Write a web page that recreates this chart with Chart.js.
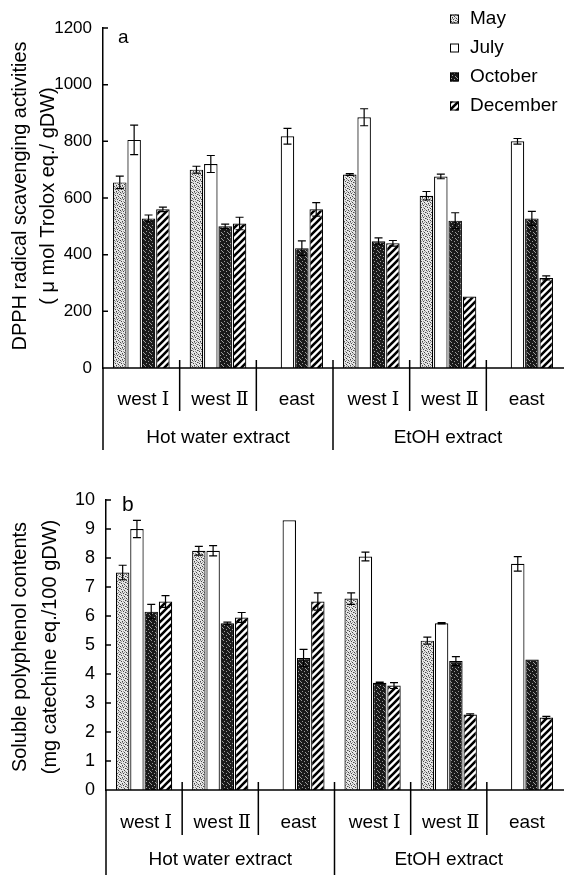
<!DOCTYPE html>
<html>
<head>
<meta charset="utf-8">
<script src="https://cdn.jsdelivr.net/npm/chart.js@4.4.0/dist/chart.umd.min.js"></script>
<style>
  html, body { margin: 0; padding: 0; background: #fff; }
  #wrap { position: relative; width: 564px; height: 875px; }
  canvas { position: absolute; left: 0; }
  #chartA { top: 0; }
  #chartB { top: 460px; }
</style>
</head>
<body>
<div id="wrap">
  <canvas id="chartA" width="564" height="460"></canvas>
  <canvas id="chartB" width="564" height="415"></canvas>
</div>
<script>
// ---------- data ----------
const sites = ['west Ⅰ', 'west Ⅱ', 'east', 'west Ⅰ', 'west Ⅱ', 'east'];
const extracts = ['Hot water extract', 'EtOH extract'];
const months = ['May', 'July', 'October', 'December'];

// DPPH radical scavenging activity (umol Trolox eq./gDW)
const dpphMay = [655, 700, null, 683, 608, null];
const dpphJuly = [805, 720, 818, 885, 676, 800];
const dpphOctober = [528, 500, 423, 447, 520, 528];
const dpphDecember = [560, 510, 560, 440, 252, 318];
const dpphMayErr = [22, 12, null, 3, 15, null];
const dpphJulyErr = [52, 30, 28, 30, 8, 10];
const dpphOctoberErr = [12, 8, 26, 12, 28, 25];
const dpphDecemberErr = [8, 22, 24, 10, 0, 7];
const dpphTicks = { min: 0, max: 1200, step: 200 };

// Soluble polyphenol (mg catechine eq./100 gDW)
const polyMay = [7.5, 8.25, null, 6.6, 5.15, null];
const polyJuly = [9.0, 8.25, 9.3, 8.05, 5.75, 7.8];
const polyOctober = [6.15, 5.75, 4.55, 3.7, 4.45, 4.5];
const polyDecember = [6.5, 5.95, 6.5, 3.6, 2.6, 2.5];
const polyMayErr = [0.25, 0.15, null, 0.2, 0.12, null];
const polyJulyErr = [0.3, 0.18, 0, 0.15, 0.02, 0.25];
const polyOctoberErr = [0.25, 0.04, 0.3, 0.02, 0.15, 0];
const polyDecemberErr = [0.2, 0.17, 0.3, 0.1, 0.03, 0.04];
const polyTicks = { min: 0, max: 10, step: 1 };

const FONT = "'Liberation Sans', 'DejaVu Sans', sans-serif";
const NUMERAL_FONT = "'DejaVu Serif', 'Liberation Serif', serif";

// ---------- fill patterns ----------
function makePattern(kind) {
    const c = document.createElement('canvas');
    const n = kind === 'hatch' ? 7 : 6;
    c.width = n;
    c.height = n;
    const g = c.getContext('2d');
    const dot = (pts) => pts.forEach(([px, py]) => g.fillRect(px, py, 1, 1));
    if (kind === 'light') {
        g.fillStyle = '#e6e6e6';
        g.fillRect(0, 0, n, n);
        g.fillStyle = '#444';
        dot([[0, 0], [3, 1], [5, 2], [1, 3], [4, 4], [2, 5]]);
        g.fillStyle = '#999';
        dot([[2, 0], [0, 2], [3, 3], [5, 5], [1, 1], [4, 0]]);
    } else if (kind === 'dark') {
        g.fillStyle = '#1a1a1a';
        g.fillRect(0, 0, n, n);
        g.fillStyle = '#9a9a9a';
        dot([[1, 0], [4, 1], [2, 3], [5, 4], [0, 5]]);
    } else if (kind === 'hatch') {
        g.fillStyle = '#fff';
        g.fillRect(0, 0, n, n);
        g.strokeStyle = '#000';
        g.lineWidth = 2.6;
        g.beginPath();
        g.moveTo(-1, n + 1); g.lineTo(n + 1, -1);
        g.moveTo(-1, 1); g.lineTo(1, -1);
        g.moveTo(n - 1, n + 1); g.lineTo(n + 1, n - 1);
        g.stroke();
    } else {
        g.fillStyle = '#fff';
        g.fillRect(0, 0, n, n);
    }
    return g.createPattern(c, 'repeat');
}

const fills = [makePattern('light'), makePattern('white'), makePattern('dark'), makePattern('hatch')];

// site label: latin part + roman numeral in a serif face
function drawSite(ctx, text, cx, cy, size) {
    const m = text.match(/^(.*?)([ⅠⅡ]?)$/);
    const word = m[1];
    const num = m[2];
    ctx.font = `${size}px ${FONT}`;
    const w1 = ctx.measureText(word).width;
    ctx.font = `${size}px ${NUMERAL_FONT}`;
    const w2 = num ? ctx.measureText(num).width : 0;
    let x0 = cx - (w1 + w2) / 2;
    ctx.textAlign = 'left';
    ctx.font = `${size}px ${FONT}`;
    ctx.fillText(word, x0, cy);
    if (num) {
        ctx.font = `${size}px ${NUMERAL_FONT}`;
        ctx.fillText(num, x0 + w1, cy);
    }
}

// ---------- drawing extras: error bars, axis bits, labels, legend ----------
const panelPlugin = {
    id: 'panel',
    afterDatasetsDraw(chart, args, opts) {
        const { ctx, chartArea: area, scales: { x, y } } = chart;
        const y0 = y.getPixelForValue(0);
        ctx.save();
        ctx.strokeStyle = '#000';
        ctx.fillStyle = '#000';

        // error bars
        ctx.lineWidth = 1.2;
        chart.data.datasets.forEach((ds, i) => {
            const meta = chart.getDatasetMeta(i);
            const errs = opts.errors[i];
            meta.data.forEach((bar, j) => {
                const v = ds.data[j];
                const e = errs[j];
                if (v == null || !e) return;
                const top = y.getPixelForValue(v + e);
                const bot = y.getPixelForValue(v - e);
                ctx.beginPath();
                ctx.moveTo(bar.x, top); ctx.lineTo(bar.x, bot);
                ctx.moveTo(bar.x - 4, top); ctx.lineTo(bar.x + 4, top);
                ctx.moveTo(bar.x - 4, bot); ctx.lineTo(bar.x + 4, bot);
                ctx.stroke();
            });
        });

        // baseline and inward ticks
        ctx.lineWidth = 1.5;
        ctx.beginPath();
        ctx.moveTo(area.left, y0);
        ctx.lineTo(area.right + 1, y0);
        y.ticks.forEach(t => {
            const py = y.getPixelForValue(t.value);
            ctx.moveTo(area.left, py);
            ctx.lineTo(area.left + 5, py);
        });
        // axis continues down past the labels
        ctx.moveTo(area.left, y0);
        ctx.lineTo(area.left, opts.extBottom);
        ctx.stroke();

        // group dividers
        const half = (x.getPixelForValue(1) - x.getPixelForValue(0)) / 2;
        ctx.beginPath();
        for (let k = 1; k < sites.length; k++) {
            const xb = x.getPixelForValue(k) - half;
            ctx.moveTo(xb, y0 - 8);
            ctx.lineTo(xb, k === 3 ? opts.extBottom : opts.divBottom);
        }
        ctx.stroke();

        // labels
        ctx.textBaseline = 'middle';
        sites.forEach((s, k) => drawSite(ctx, s, x.getPixelForValue(k) + 2, opts.siteY, opts.labelSize));
        ctx.textAlign = 'center';
        ctx.font = `${opts.labelSize}px ${FONT}`;
        extracts.forEach((s, k) => ctx.fillText(s, x.getPixelForValue(k * 3 + 1), opts.extractY));

        // panel letter
        ctx.textAlign = 'left';
        ctx.font = `${opts.letterSize}px ${FONT}`;
        ctx.fillText(opts.letter, opts.letterX, opts.letterY);

        // axis title
        ctx.save();
        ctx.translate(0, opts.titleY);
        ctx.rotate(-Math.PI / 2);
        ctx.textAlign = 'center';
        ctx.font = `${opts.titleSize}px ${FONT}`;
        opts.title.forEach((line, k) => ctx.fillText(line, 0, opts.titleX[k]));
        ctx.restore();

        // legend
        if (opts.legend) {
            ctx.font = `${opts.labelSize}px ${FONT}`;
            ctx.textAlign = 'left';
            ctx.lineWidth = 1;
            chart.data.datasets.forEach((ds, i) => {
                const ry = opts.legend.y + i * opts.legend.gap;
                ctx.fillStyle = ds.backgroundColor;
                ctx.fillRect(opts.legend.x, ry - 4.5, 9, 9);
                ctx.strokeRect(opts.legend.x + 0.5, ry - 4, 8, 8);
                ctx.fillStyle = '#000';
                ctx.fillText(ds.label, opts.legend.x + 20, ry);
            });
        }
        ctx.restore();
    }
};

function buildDatasets(series) {
    return months.map((m, i) => ({
        label: m,
        data: series[i],
        backgroundColor: fills[i],
        borderColor: '#000',
        borderWidth: 1.2,
        barPercentage: 0.94,
        categoryPercentage: 0.75
    }));
}

function buildChart(canvasId, series, ticks, axisWidth, padding, tickSize, panel) {
    return new Chart(document.getElementById(canvasId), {
        type: 'bar',
        data: { labels: sites, datasets: buildDatasets(series) },
        options: {
            responsive: false,
            animation: false,
            layout: { padding: padding },
            plugins: {
                legend: { display: false },
                tooltip: { enabled: false },
                panel: panel
            },
            scales: {
                x: { display: false },
                y: {
                    min: ticks.min,
                    max: ticks.max,
                    afterFit(scale) { scale.width = axisWidth; },
                    ticks: {
                        stepSize: ticks.step,
                        padding: 11,
                        color: '#000',
                        font: { family: FONT, size: tickSize },
                        callback: (v) => String(v)
                    },
                    grid: { display: false, drawTicks: false },
                    border: { display: true, color: '#000', width: 1.5 }
                }
            }
        },
        plugins: [panelPlugin]
    });
}

buildChart('chartA',
    [dpphMay, dpphJuly, dpphOctober, dpphDecember],
    dpphTicks, 103, { top: 28, right: 1, bottom: 92, left: 0 }, 17,
    {
        errors: [dpphMayErr, dpphJulyErr, dpphOctoberErr, dpphDecemberErr],
        title: ['DPPH radical scavenging activities', '( \u03bc mol Trolox eq./ gDW)'],
        titleX: [20, 48], titleY: 196, titleSize: 20,
        letter: 'a', letterX: 118, letterY: 38, letterSize: 19,
        labelSize: 19, siteY: 400, extractY: 438,
        divBottom: 411, extBottom: 450,
        legend: { x: 450, y: 19, gap: 29 }
    });

buildChart('chartB',
    [polyMay, polyJuly, polyOctober, polyDecember],
    polyTicks, 106, { top: 40, right: 1, bottom: 85, left: 0 }, 18,
    {
        errors: [polyMayErr, polyJulyErr, polyOctoberErr, polyDecemberErr],
        title: ['Soluble polyphenol contents', '(mg catechine eq./100 gDW)'],
        titleX: [20, 50], titleY: 187, titleSize: 20,
        letter: 'b', letterX: 122, letterY: 45, letterSize: 21,
        labelSize: 19, siteY: 363, extractY: 400,
        divBottom: 375, extBottom: 415,
        legend: null
    });
</script>
</body>
</html>
